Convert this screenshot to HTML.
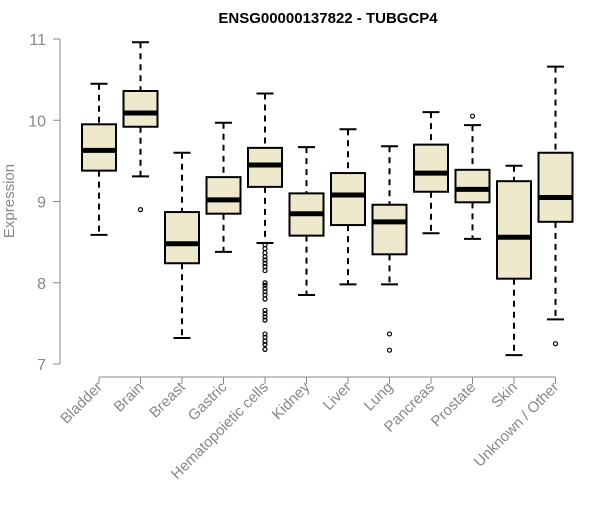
<!DOCTYPE html>
<html><head><meta charset="utf-8"><style>
body{margin:0;background:#fff}
svg text{font-family:"Liberation Sans",sans-serif}
</style></head><body>
<svg id="chart" width="600" height="500">
<text x="328" y="23" text-anchor="middle" font-weight="bold" font-size="15">ENSG00000137822 - TUBGCP4</text>
<text x="14" y="201" transform="rotate(-90 14 201)" text-anchor="middle" fill="#888" font-size="15">Expression</text>
<g id="plot"></g>
</svg>
<script>
const categories=["Bladder","Brain","Breast","Gastric","Hematopoietic cells","Kidney","Liver","Lung","Pancreas","Prostate","Skin","Unknown / Other"];
const whiskerMax=[10.45,10.96,9.6,9.97,10.33,9.67,9.89,9.68,10.1,9.94,9.44,10.66];
const q3=[9.95,10.36,8.87,9.30,9.66,9.10,9.35,8.96,9.70,9.39,9.25,9.6];
const medians=[9.63,10.09,8.48,9.02,9.45,8.85,9.08,8.75,9.35,9.15,8.56,9.05];
const q1=[9.38,9.92,8.24,8.85,9.18,8.58,8.71,8.35,9.12,8.99,8.05,8.75];
const whiskerMin=[8.59,9.31,7.32,8.38,8.49,7.85,7.98,7.98,8.61,8.54,7.11,7.55];
const outliers=[[],[8.9],[],[],[8.47,8.42,8.37,8.32,8.28,8.24,8.2,8.15,8.0,7.97,7.93,7.89,7.85,7.8,7.66,7.62,7.58,7.54,7.37,7.33,7.28,7.24,7.18],[],[],[7.37,7.17],[],[10.05],[],[7.25]];
const yTicks=[7,8,9,10,11];
const ns="http://www.w3.org/2000/svg";
const g=document.getElementById('plot');
const y=v=>39+(11-v)*81.25;
const x=i=>99+i*41.5;
function el(t,a){const e=document.createElementNS(ns,t);for(const k in a)e.setAttribute(k,a[k]);g.appendChild(e);return e;}
let ax=el('line',{x1:60,x2:60,y1:y(11),y2:y(7),stroke:'#888'});

yTicks.forEach(t=>{el('line',{x1:53,x2:60,y1:y(t),y2:y(t),stroke:'#888'});
 const tx=el('text',{x:46,y:y(t)+6,'text-anchor':'end',fill:'#888','font-size':16});tx.textContent=t;
 });
let xa=el('line',{x1:x(0),x2:x(11),y1:377,y2:377,stroke:'#888'});

categories.forEach((c,i)=>{const cx=x(i),w=17,h=8.5;
 el('line',{x1:cx,x2:cx,y1:377,y2:384,stroke:'#888'});
 const lb=el('text',{x:cx+4,y:388,'text-anchor':'end',fill:'#888','font-size':15,transform:`rotate(-45 ${cx+4} 388)`});lb.textContent=c;
 
 const bx=document.createElementNS(ns,'g');g.appendChild(bx);
 
 
 const add=(t,a)=>{const e=document.createElementNS(ns,t);for(const k in a)e.setAttribute(k,a[k]);bx.appendChild(e);};
 add('line',{x1:cx,x2:cx,y1:y(whiskerMax[i]),y2:y(q3[i]),stroke:'#000','stroke-width':2,'stroke-dasharray':'6,5'});
 add('line',{x1:cx,x2:cx,y1:y(q1[i]),y2:y(whiskerMin[i]),stroke:'#000','stroke-width':2,'stroke-dasharray':'6,5'});
 add('line',{x1:cx-h,x2:cx+h,y1:y(whiskerMax[i]),y2:y(whiskerMax[i]),stroke:'#000','stroke-width':2});
 add('line',{x1:cx-h,x2:cx+h,y1:y(whiskerMin[i]),y2:y(whiskerMin[i]),stroke:'#000','stroke-width':2});
 add('rect',{x:cx-w,y:y(q3[i]),width:2*w,height:y(q1[i])-y(q3[i]),fill:'#EEE8CD',stroke:'#000','stroke-width':2});
 add('line',{x1:cx-w,x2:cx+w,y1:y(medians[i]),y2:y(medians[i]),stroke:'#000','stroke-width':5});
 outliers[i].forEach(o=>add('circle',{cx:cx,cy:y(o),r:2,fill:'none',stroke:'#000','stroke-width':1.2}));
});
</script>
</body></html>
